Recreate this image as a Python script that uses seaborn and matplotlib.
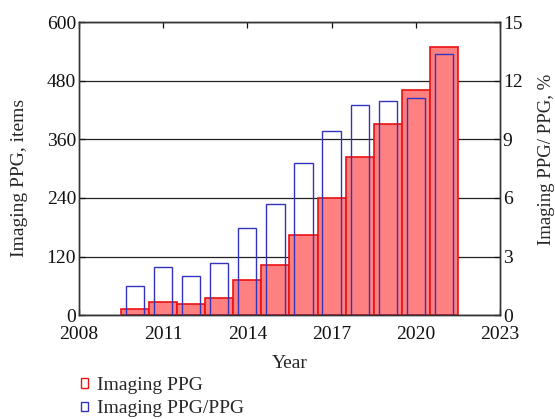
import matplotlib
matplotlib.use("Agg")
import matplotlib.pyplot as plt
import seaborn as sns
import pandas as pd
from matplotlib.patches import Rectangle

# datos
years = [2010, 2011, 2012, 2013, 2014, 2015, 2016, 2017, 2018, 2019, 2020, 2021]
imaging_ppg = [13, 26, 23, 35, 72, 103, 165, 240, 323, 391, 462, 550]
ratio_pct = [1.5, 2.46, 2.0, 2.65, 4.44, 5.7, 7.8, 9.44, 10.74, 10.97, 11.13, 13.36]

x_ticks = [2008, 2011, 2014, 2017, 2020, 2023]
left_ticks = [0, 120, 240, 360, 480, 600]
right_ticks = [0, 3, 6, 9, 12, 15]

df = pd.DataFrame({"year": years, "ppg": imaging_ppg, "pct": ratio_pct})

sns.set_theme(style="ticks")
plt.rcParams["font.family"] = ["Liberation Serif", "DejaVu Serif"]

fig = plt.figure(figsize=(5.55, 4.19), dpi=100)
ax1 = fig.add_axes([0.142, 0.248, 0.759, 0.699])

# grid detras de las barras rojas
ax1.set_axisbelow(True)
ax1.yaxis.grid(True, color="#222222", linewidth=0.9)

red_fill = "#ff8080"
red_edge = "#ee1111"
blue_edge = "#3333bb"

sns.histplot(data=df, x="year", weights="ppg", discrete=True, ax=ax1,
             color=red_fill, edgecolor=red_edge, linewidth=1.2, alpha=1)

ax2 = ax1.twinx()
sns.histplot(data=df, x="year", weights="pct", discrete=True, shrink=0.65,
             fill=False, ax=ax2, color=blue_edge, linewidth=1.0)

ax1.set_xlim(2008, 2023)
ax1.set_ylim(0, 600)
ax2.set_ylim(0, 15)
ax1.set_xticks(x_ticks)
ax1.set_yticks(left_ticks)
ax2.set_yticks(right_ticks)

ax1.set_xlabel("Year", fontsize=14)
ax1.set_ylabel("Imaging PPG, items", fontsize=14)
ax2.set_ylabel("Imaging PPG/ PPG, %", fontsize=13.5)
ax1.xaxis.set_label_coords(0.501, -0.135)
ax1.yaxis.set_label_coords(-0.121, 0.468)
ax2.yaxis.set_label_coords(1.09, 0.53)

for a in (ax1, ax2):
    for s in a.spines.values():
        s.set_color("#333333")
        s.set_linewidth(1.0)
        s.set_visible(True)
    a.tick_params(direction="in", length=4, width=0.9, labelsize=14, colors="#111111")
ax1.tick_params(axis="x", top=True, pad=8)
ax1.tick_params(axis="y", pad=2)
ax2.tick_params(axis="y", pad=2)

handles = [Rectangle((0, 0), 1, 1, facecolor="none", edgecolor=red_edge, linewidth=1),
           Rectangle((0, 0), 1, 1, facecolor="none", edgecolor=blue_edge, linewidth=1)]
fig.legend(handles, ["Imaging PPG", "Imaging PPG/PPG"], loc="upper left",
           bbox_to_anchor=(0.142, 0.105), frameon=False, fontsize=14,
           handlelength=0.35, handleheight=0.35, handletextpad=0.5,
           labelspacing=0.32, borderpad=0.1, borderaxespad=0)

fig.savefig("out.png", dpi=100)
